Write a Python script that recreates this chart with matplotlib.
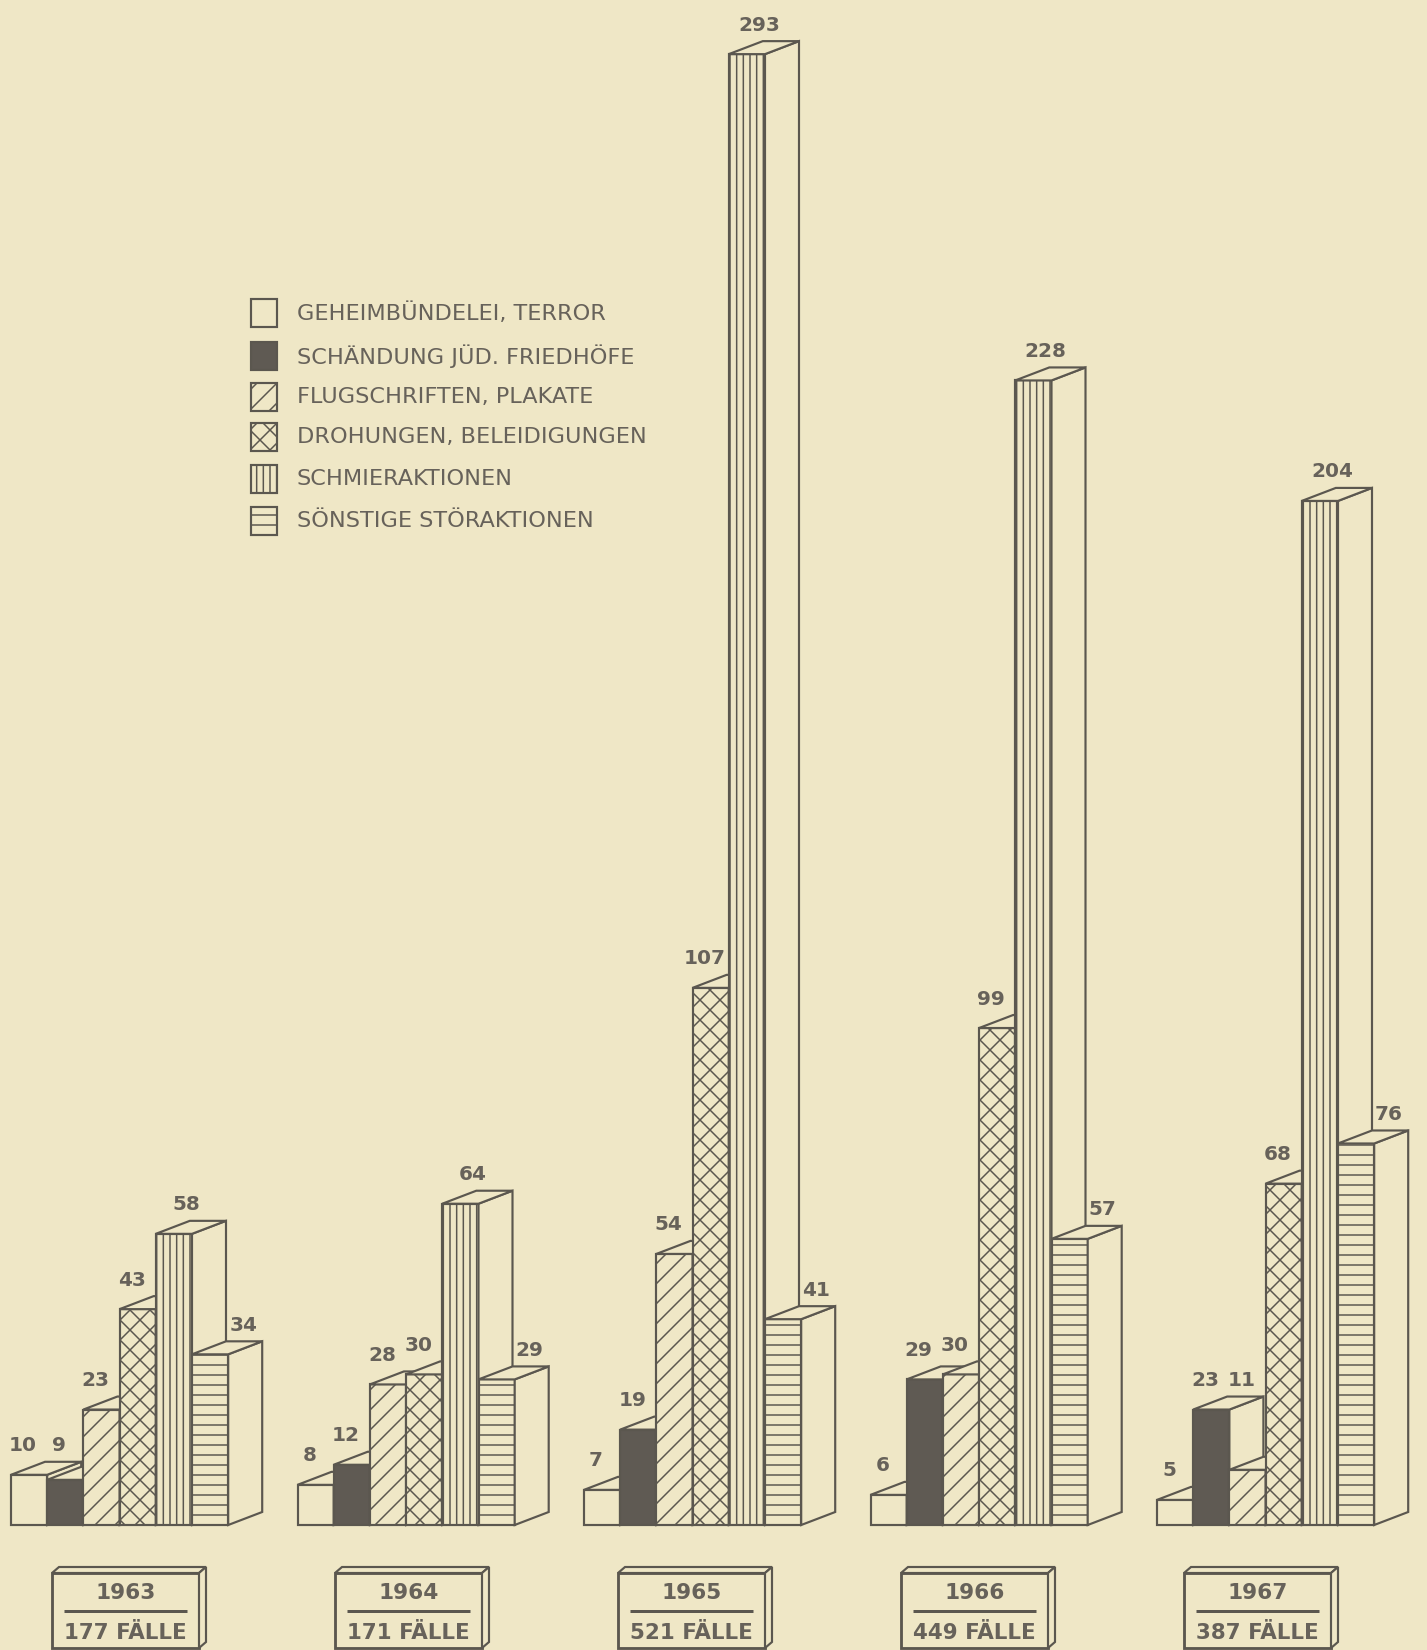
import matplotlib
matplotlib.use("Agg")
import matplotlib.pyplot as plt
from matplotlib.patches import Rectangle, Polygon

# ---------------- data ----------------
years = ["1963", "1964", "1965", "1966", "1967"]
totals = [177, 171, 521, 449, 387]
categories = [
    "GEHEIMBÜNDELEI, TERROR",
    "SCHÄNDUNG JÜD. FRIEDHÖFE",
    "FLUGSCHRIFTEN, PLAKATE",
    "DROHUNGEN, BELEIDIGUNGEN",
    "SCHMIERAKTIONEN",
    "SÖNSTIGE STÖRAKTIONEN",
]
v1963 = [10, 9, 23, 43, 58, 34]
v1964 = [8, 12, 28, 30, 64, 29]
v1965 = [7, 19, 54, 107, 293, 41]
v1966 = [6, 29, 30, 99, 228, 57]
v1967 = [5, 23, 11, 68, 204, 76]
values = [v1963, v1964, v1965, v1966, v1967]

# ---------------- style ----------------
PAPER = "#efe7c6"
INK = "#5b574f"
TXT = "#67625a"
DARK = "#5f5a53"
faces = [PAPER, DARK, PAPER, PAPER, PAPER, PAPER]
hatches = [None, None, "//", "xx", "|||", "--"]

W, H, DPI = 1427, 1650, 120
PX = 5.02          # pixels per case
BASE = 1525        # baseline, pixels from top
BW = 36.2          # bar width (px)
DX, DYP = 34, 13   # oblique depth offset (px)
LW = 1.3

plt.rcParams["hatch.linewidth"] = 0.9
plt.rcParams["hatch.color"] = INK
plt.rcParams["font.family"] = ["DejaVu Sans"]


def yd(ypx):
    return (BASE - ypx) / PX


DY = DYP / PX

fig = plt.figure(figsize=(W / DPI, H / DPI), dpi=DPI, facecolor=PAPER)
ax = fig.add_axes([0, 0, 1, 1])
ax.set_facecolor(PAPER)
ax.set_xlim(0, W)
ax.set_ylim(yd(H), yd(0))
ax.axis("off")

label_dx = [-6, -6, -6, -6, 12, 33]

for g, vals in enumerate(values):
    x0 = 11 + 286.5 * g
    for i, v in enumerate(vals):
        xl = x0 + i * BW
        z = 2 + g + i * 0.1
        ax.bar(xl, v, width=BW, align="edge", color=faces[i], hatch=hatches[i],
               edgecolor=INK, linewidth=LW, zorder=z)
        top = Polygon([(xl, v), (xl + BW, v), (xl + BW + DX, v + DY), (xl + DX, v + DY)],
                      closed=True, facecolor=PAPER, edgecolor=INK, linewidth=LW,
                      zorder=z + 0.05, joinstyle="miter")
        side = Polygon([(xl + BW, 0), (xl + BW + DX, DY), (xl + BW + DX, v + DY), (xl + BW, v)],
                       closed=True, facecolor=PAPER, edgecolor=INK, linewidth=LW,
                       zorder=z + 0.05, joinstyle="miter")
        ax.add_patch(side)
        ax.add_patch(top)
        # label
        base = v
        if 1 <= i <= 4:
            base = max(v, vals[i - 1])
        ax.text(xl + BW / 2 + label_dx[i], base + DY + 16 / PX, str(v),
                ha="center", va="center", fontsize=12, fontweight="bold",
                color=TXT, zorder=20)

    # year box
    bx = 52 + 283 * g
    bw = 147
    ytop, ybot = 1573, 1648
    ax.add_patch(Rectangle((bx, yd(ybot)), bw, (ybot - ytop) / PX, facecolor=PAPER,
                           edgecolor=INK, linewidth=LW + 0.4, zorder=5))
    ax.add_patch(Polygon([(bx, yd(ytop)), (bx + bw, yd(ytop)), (bx + bw + 7, yd(ytop - 6)),
                          (bx + 7, yd(ytop - 6))], closed=True, facecolor=PAPER,
                         edgecolor=INK, linewidth=LW, zorder=5))
    ax.add_patch(Polygon([(bx + bw, yd(ytop)), (bx + bw + 7, yd(ytop - 6)),
                          (bx + bw + 7, yd(ybot - 6)), (bx + bw, yd(ybot))], closed=True,
                         facecolor=PAPER, edgecolor=INK, linewidth=LW, zorder=5))
    ax.text(bx + bw / 2, yd(1593), years[g], ha="center", va="center", fontsize=13,
            fontweight="bold", color=TXT, zorder=6)
    ax.plot([bx + 12, bx + bw - 12], [yd(1611), yd(1611)], color=INK, lw=1.8, zorder=6,
            solid_capstyle="butt")
    ax.text(bx + bw / 2, yd(1633), f"{totals[g]} FÄLLE", ha="center", va="center",
            fontsize=12.8, fontweight="bold", color=TXT, zorder=6)

# legend
rows = [313, 356, 397, 437, 479, 521]
for k, (yc, lab) in enumerate(zip(rows, categories)):
    ax.add_patch(Rectangle((251, yd(yc + 14)), 26, 28 / PX, facecolor=faces[k],
                           hatch=hatches[k], edgecolor=INK, linewidth=LW, zorder=5))
    ax.text(297, yd(yc), lab, ha="left", va="center", fontsize=13.4, color=TXT, zorder=6)

fig.savefig("out.png", dpi=DPI, facecolor=PAPER)
